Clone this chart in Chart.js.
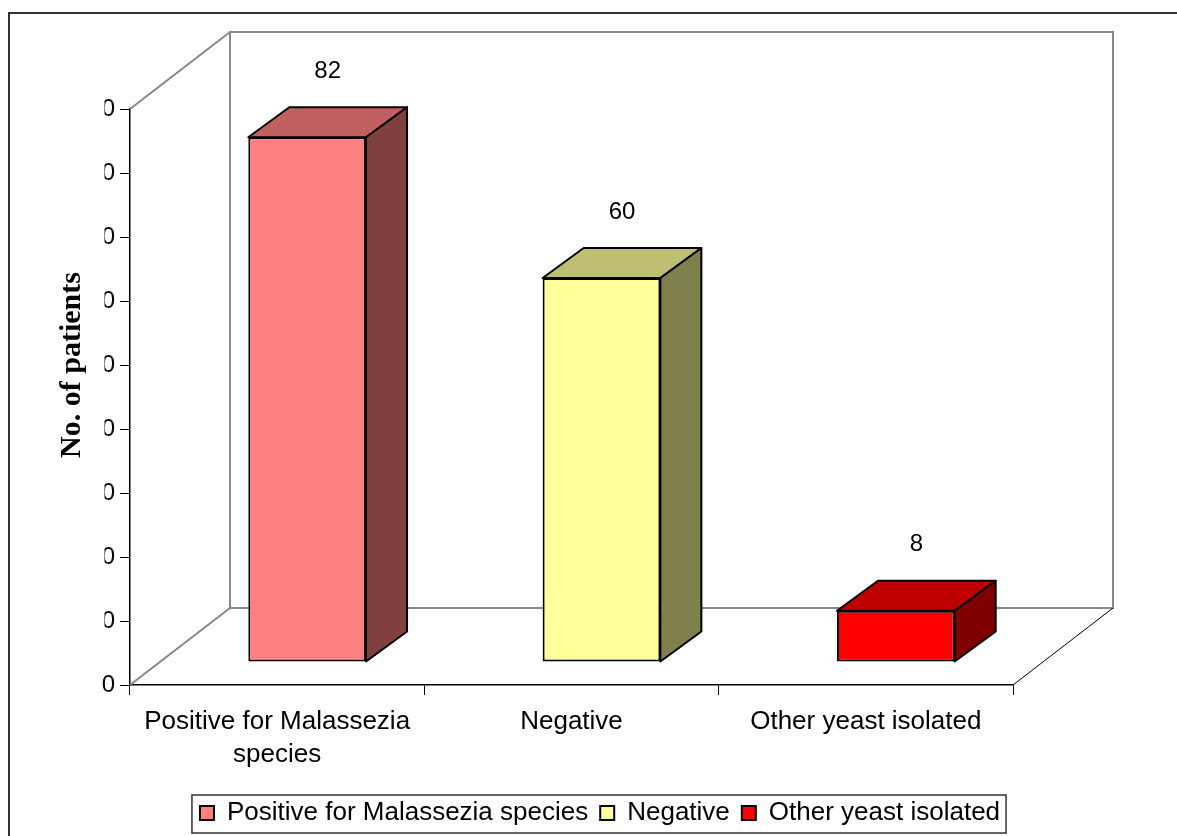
<!DOCTYPE html>
<html>
<head>
  <title>Malassezia culture results</title>
  <script src="https://cdn.jsdelivr.net/npm/chart.js"></script>
  <style>
    body { margin: 0; background: #fff; }
  </style>
</head>
<body>
  <canvas id="chart" width="1177" height="836"></canvas>
  <script>
    // values
    const categories = [['Positive for Malassezia', 'species'], 'Negative', 'Other yeast isolated'];
    const seriesNames = ['Positive for Malassezia species', 'Negative', 'Other yeast isolated'];
    const patientCounts = [82, 60, 8];
    const yTicks = [0, 10, 20, 30, 40, 50, 60, 70, 80, 90];

    // face colours of the boxes (front / top / side)
    const frontColors = ['#ff8080', '#ffff99', '#ff0000'];
    const topColors = ['#c06060', '#bfbf73', '#bf0000'];
    const sideColors = ['#804040', '#80804d', '#800000'];

    // fake 3d offsets
    const WALL_DX = 100, WALL_DY = -77;   // back wall behind the front plane
    const BAR_DX = 30, BAR_DY = -23;      // bars sit a bit inside the floor
    const DEPTH_DX = 41, DEPTH_DY = -30;  // thickness of each box

    Chart.defaults.font.family = '"Liberation Sans", Arial, sans-serif';
    Chart.defaults.color = '#000';

    function face(ctx, pts, color) {
      ctx.beginPath();
      ctx.moveTo(pts[0][0], pts[0][1]);
      for (let k = 1; k < pts.length; k++) ctx.lineTo(pts[k][0], pts[k][1]);
      ctx.closePath();
      ctx.fillStyle = color;
      ctx.fill();
      ctx.lineWidth = 2;
      ctx.strokeStyle = '#000';
      ctx.lineJoin = 'round';
      ctx.stroke();
    }

    const box3d = {
      id: 'box3d',
      beforeDraw(chart) {
        const ctx = chart.ctx;
        ctx.save();
        ctx.fillStyle = '#fff';
        ctx.fillRect(0, 0, chart.width, chart.height);
        // outer frame, cut off at the right and bottom like the original
        ctx.strokeStyle = '#333';
        ctx.lineWidth = 2;
        ctx.strokeRect(9, 13, chart.width + 20, chart.height + 20);
        ctx.restore();
      },
      beforeDatasetsDraw(chart) {
        const { ctx, chartArea: a } = chart;
        ctx.save();
        ctx.strokeStyle = '#888';
        ctx.lineWidth = 2;
        // back wall
        ctx.strokeRect(a.left + WALL_DX, a.top + WALL_DY, a.right - a.left, a.bottom - a.top);
        // side wall edges
        ctx.beginPath();
        ctx.moveTo(a.left, a.top);
        ctx.lineTo(a.left + WALL_DX, a.top + WALL_DY);
        ctx.moveTo(a.left, a.bottom);
        ctx.lineTo(a.left + WALL_DX, a.bottom + WALL_DY);
        ctx.stroke();
        // floor right edge
        ctx.strokeStyle = '#000';
        ctx.lineWidth = 1;
        ctx.beginPath();
        ctx.moveTo(a.right, a.bottom);
        ctx.lineTo(a.right + WALL_DX, a.bottom + WALL_DY);
        ctx.stroke();
        ctx.restore();
        // push the bars back into the box
        ctx.save();
        ctx.translate(BAR_DX, BAR_DY);
      },
      afterDatasetsDraw(chart) {
        const ctx = chart.ctx;
        chart.data.datasets.forEach((ds, i) => {
          const meta = chart.getDatasetMeta(i);
          meta.data.forEach((bar, j) => {
            if (ds.data[j] == null) return;
            const { x, y, base, width } = bar.getProps(['x', 'y', 'base', 'width'], true);
            const l = x - width / 2, r = x + width / 2;
            face(ctx, [[l, y], [l + DEPTH_DX, y + DEPTH_DY], [r + DEPTH_DX, y + DEPTH_DY], [r, y]], topColors[i]);
            face(ctx, [[r, y], [r + DEPTH_DX, y + DEPTH_DY], [r + DEPTH_DX, base + DEPTH_DY], [r, base]], sideColors[i]);
            // value label
            ctx.fillStyle = '#000';
            ctx.font = '24px "Liberation Sans", Arial, sans-serif';
            ctx.textAlign = 'center';
            ctx.textBaseline = 'middle';
            ctx.fillText(String(ds.data[j]), x + DEPTH_DX / 2, y + DEPTH_DY - 36);
          });
        });
        ctx.restore();
      },
      afterDraw(chart) {
        const { ctx, chartArea: a, scales } = chart;
        ctx.save();
        // the tick numbers are clipped in the original, only the last digit shows
        ctx.fillStyle = '#fff';
        const yCut = scales.y.getPixelForValue(5);
        ctx.fillRect(86, a.top - 15, 18.5, yCut - a.top + 15);

        // axis title
        ctx.translate(72, (a.top + a.bottom) / 2 - 32);
        ctx.rotate(-Math.PI / 2);
        ctx.fillStyle = '#000';
        ctx.font = 'bold 30px "Liberation Serif", "Times New Roman", serif';
        ctx.textAlign = 'center';
        ctx.textBaseline = 'middle';
        ctx.fillText('No. of patients', 0, 0);
        ctx.restore();

        // border round the legend
        const boxes = chart.legend.legendHitBoxes;
        if (boxes && boxes.length) {
          const left = Math.min(...boxes.map(b => b.left)) - 8;
          const right = Math.max(...boxes.map(b => b.left + b.width)) + 6;
          const cy = boxes[0].top + boxes[0].height / 2 + 1;
          ctx.save();
          ctx.strokeStyle = '#333';
          ctx.lineWidth = 1.5;
          ctx.strokeRect(left, cy - 19, right - left, 38);
          ctx.restore();
        }
      }
    };

    const datasets = seriesNames.map((name, i) => ({
      label: name,
      data: patientCounts.map((v, j) => (j === i ? v : null)),
      backgroundColor: frontColors[i],
      borderColor: '#000',
      borderWidth: 2,
      borderSkipped: false,
      clip: false
    }));

    new Chart(document.getElementById('chart'), {
      type: 'bar',
      data: { labels: categories, datasets: datasets },
      options: {
        responsive: false,
        animation: false,
        grouped: false,
        categoryPercentage: 1,
        barPercentage: 0.4,
        layout: { padding: { left: 23, right: 0, top: 109, bottom: 0 } },
        plugins: {
          tooltip: { enabled: false },
          legend: {
            position: 'bottom',
            labels: {
              boxWidth: 14,
              boxHeight: 14,
              padding: 12,
              color: '#000',
              font: { size: 26 }
            }
          }
        },
        scales: {
          x: {
            grid: { drawOnChartArea: false, offset: true, tickLength: 10, color: '#000', lineWidth: 1 },
            border: { color: '#000', width: 1.5 },
            ticks: { color: '#000', font: { size: 26, lineHeight: 1.27 }, maxRotation: 0, autoSkip: false, padding: 10 },
            afterFit(scale) { scale.height = 103; }
          },
          y: {
            min: 0,
            max: 90,
            afterBuildTicks(scale) { scale.ticks = yTicks.map(v => ({ value: v })); },
            ticks: { color: '#000', font: { size: 24 }, padding: 5 },
            grid: { drawOnChartArea: false, tickLength: 10, color: '#000' },
            border: { color: '#000', width: 1.5 },
            afterFit(scale) { scale.width = 107; }
          },
          yRight: {
            axis: 'y',
            type: 'linear',
            position: 'right',
            grid: { display: false },
            ticks: { display: false },
            border: { display: false },
            afterFit(scale) { scale.width = 164; }
          }
        }
      },
      plugins: [box3d]
    });
  </script>
</body>
</html>
